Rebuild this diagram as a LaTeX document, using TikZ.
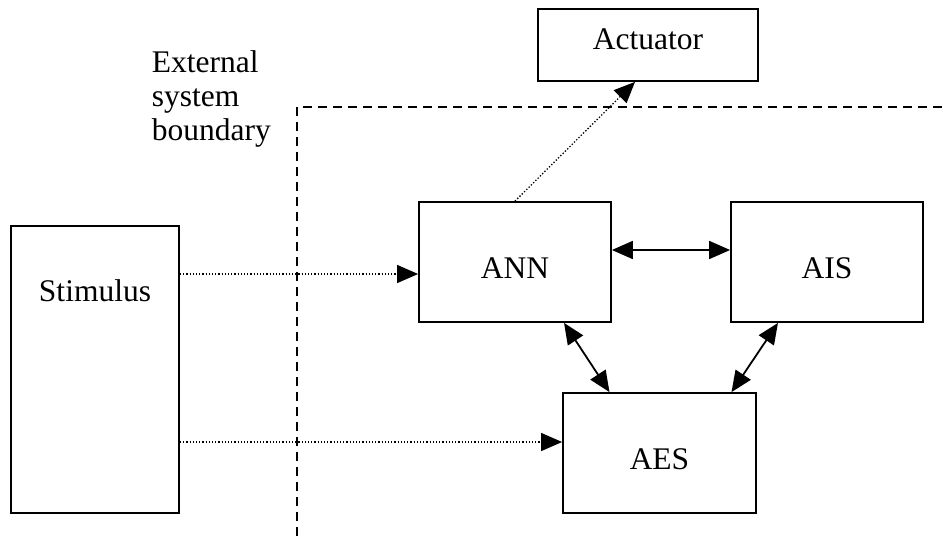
\documentclass[tikz,border=0pt]{standalone}
\usepackage{fontspec}
\setmainfont{Liberation Serif}
\usetikzlibrary{arrows.meta}

\begin{document}
\begin{tikzpicture}[x=1pt, y=-1pt, >={Triangle[length=21pt, width=18pt]},
                    line width=1.8pt, font=\fontsize{31.5}{34}\selectfont]
    \tikzstyle{block}=[draw, rectangle, inner sep=0pt, text height=32pt, text depth=0pt,
                       minimum width=192pt, minimum height=120pt]
    \tikzstyle{signal}=[->, line width=1.3pt, dash pattern=on 1.3pt off 1.9pt]
    \tikzstyle{link}=[<->, line width=1.8pt]
    \tikzstyle{boundary}=[line width=1.6pt, dash pattern=on 9pt off 6pt]

    \useasboundingbox (0,0) rectangle (943,536);

    \node[block, minimum width=220pt, minimum height=72pt, text height=8pt] (act) at (648,45) {Actuator};
    \node[block]                                      (ann)  at (515,262)   {ANN};
    \node[block]                                      (ais)  at (827,262)   {AIS};
    \node[block, minimum width=193pt]                 (aes)  at (659.5,453) {AES};
    \node[block, minimum width=168pt, minimum height=287pt] (stim) at (95,369.5) {};
    \node[anchor=base] (stimtext) at ([yshift=-76pt]stim.north) {Stimulus};

    % external system boundary
    \node[anchor=north west, align=left, inner sep=0pt] (extlabel) at (151,50)
        {External\\system\\boundary};
    \coordinate (bbot)    at (297,536);
    \coordinate (bcorner) at (297,107);
    \coordinate (bright)  at (943,107);
    \draw[boundary] (bbot) -- (bcorner) -- (bright);

    % signals
    \coordinate (annin) at ([yshift=-12pt]ann.west);
    \coordinate (aesin) at ([yshift=11pt]aes.west);
    \draw[signal] (stim.east |- annin) -- (annin);
    \draw[signal] (stim.east |- aesin) -- (aesin);
    \draw[signal] (ann.north) -- ([xshift=-13pt]act.south);

    % links
    \draw[link] ([yshift=12pt]ann.east)   -- ([yshift=12pt]ais.west);
    \draw[link] ([xshift=49pt]ann.south)  -- ([xshift=-50pt]aes.north);
    \draw[link] ([xshift=-49pt]ais.south) -- ([xshift=72pt]aes.north);
\end{tikzpicture}
\end{document}
